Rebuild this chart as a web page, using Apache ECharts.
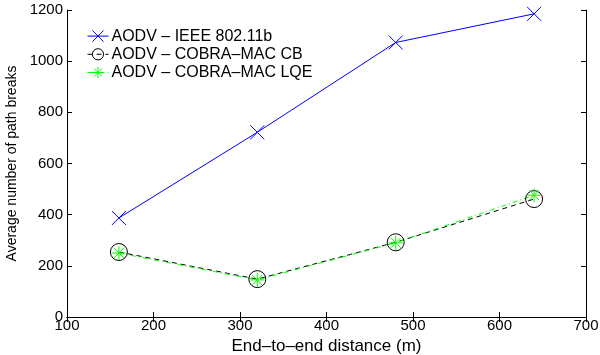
<!DOCTYPE html>
<html>
<head>
<meta charset="utf-8">
<script src="https://cdn.jsdelivr.net/npm/echarts@6/dist/echarts.min.js"></script>
<style>html,body{margin:0;padding:0;background:#fff;}#c{width:600px;height:355px;}</style>
</head>
<body>
<div id="c"></div>
<script>
const distances = [160, 320, 480, 640];
const ieee = [387, 722, 1073, 1185];
const cobraCB = [254, 148, 292, 461];
const cobraLQE = [250, 145, 290, 476];
const names = ['AODV – IEEE 802.11b', 'AODV – COBRA–MAC CB', 'AODV – COBRA–MAC LQE'];
const xTicks = [100, 200, 300, 400, 500, 600, 700];
const yTicks = [0, 200, 400, 600, 800, 1000, 1200];

const pair = (xs, ys) => xs.map((x, i) => [x, ys[i]]);
const crossPath = 'path://M0,0L10,10M10,0L0,10';
const starPath = 'path://M5,0L5,10M0,5L10,5M1.46,1.46L8.54,8.54M8.54,1.46L1.46,8.54';
const font = 'Liberation Sans, Arial, sans-serif';

const chart = echarts.init(document.getElementById('c'));
const axisCommon = {
  axisLine: { show: true, lineStyle: { color: '#000', width: 1 } },
  axisTick: { show: true, inside: true, length: 5, lineStyle: { color: '#000' } },
  splitLine: { show: false }
};
chart.setOption({
  animation: false,
  backgroundColor: '#fff',
  grid: { left: 67, right: 14, top: 10, bottom: 38, containLabel: false, outerBoundsMode: 'none' },
  legend: {
    left: 82, top: 23, orient: 'vertical', itemGap: 2, itemWidth: 21, itemHeight: 14,
    itemStyle: { borderWidth: 1 }, lineStyle: { width: 1 },
    textStyle: { fontFamily: font, fontSize: 16, color: '#000', padding: [0, 0, 0, -2] },
    data: names
  },
  xAxis: [
    Object.assign({
      type: 'value', min: 100, max: 700, interval: 100,
      name: 'End–to–end distance (m)', nameLocation: 'middle', nameGap: 13,
      nameTextStyle: { fontFamily: font, fontSize: 17, color: '#000' },
      axisLabel: { fontFamily: font, fontSize: 15, color: '#000', margin: 1,
        formatter: v => xTicks.includes(v) ? String(v) : '' }
    }, axisCommon),
    Object.assign({ type: 'value', min: 100, max: 700, interval: 100, position: 'top',
      axisLabel: { show: false } }, axisCommon)
  ],
  yAxis: [
    Object.assign({
      type: 'value', min: 0, max: 1200, interval: 200,
      name: 'Average number of path breaks', nameLocation: 'middle', nameGap: 40,
      nameTextStyle: { fontFamily: font, fontSize: 14, color: '#000' },
      axisLabel: { fontFamily: font, fontSize: 15, color: '#000', margin: 4,
        formatter: v => yTicks.includes(v) ? String(v) : '' }
    }, axisCommon),
    Object.assign({ type: 'value', min: 0, max: 1200, interval: 200, position: 'right',
      axisLabel: { show: false } }, axisCommon)
  ],
  series: [
    {
      name: names[0], type: 'line', data: pair(distances, ieee),
      symbol: crossPath, symbolSize: 14, showAllSymbol: true,
      lineStyle: { color: '#0000ff', width: 1 },
      itemStyle: { color: 'none', borderColor: '#0000ff', borderWidth: 1 }
    },
    {
      name: names[1], type: 'line', data: pair(distances, cobraCB),
      symbol: 'circle', symbolSize: 17,
      lineStyle: { color: '#000', width: 1, type: [5, 4] },
      itemStyle: { color: 'none', borderColor: '#000', borderWidth: 1 }
    },
    {
      name: names[2], type: 'line', data: pair(distances, cobraLQE),
      symbol: starPath, symbolSize: 14,
      lineStyle: { color: '#00ff00', width: 1, type: [5, 3, 1, 3] },
      itemStyle: { color: 'none', borderColor: '#00ff00', borderWidth: 1 }
    }
  ]
});
</script>
</body>
</html>
